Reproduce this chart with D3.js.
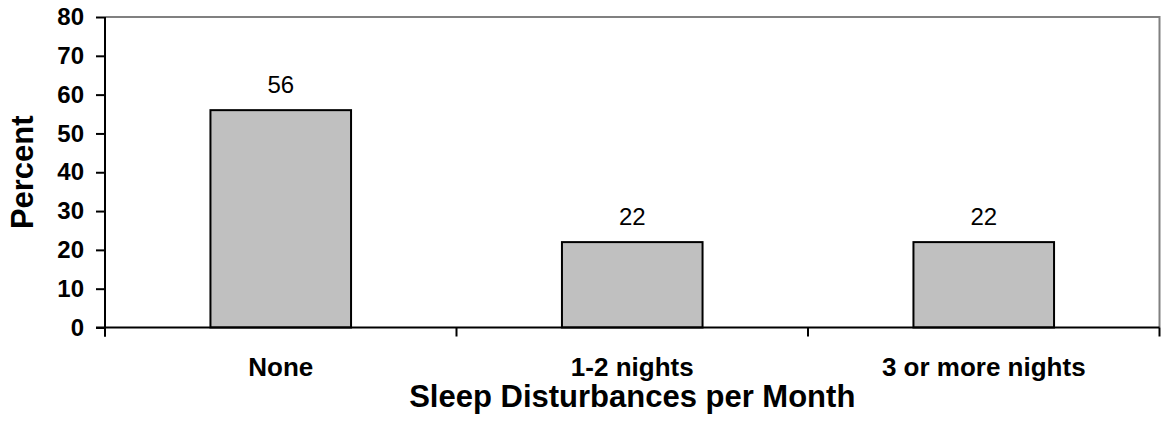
<!DOCTYPE html>
<html>
<head>
<meta charset="utf-8">
<script src="https://cdn.jsdelivr.net/npm/d3@7"></script>
<style>
  body { margin: 0; background: #fff; }
  text { font-family: Arial, "Liberation Sans", sans-serif; }
</style>
</head>
<body>
<div id="chart"></div>
<script>
// chart data
const categories = ["None", "1-2 nights", "3 or more nights"];
const percents = [56, 22, 22];
const yTicks = [0, 10, 20, 30, 40, 50, 60, 70, 80];

const width = 1163;
const height = 423;
const margin = {top: 17, right: 3.5, bottom: 95.5, left: 105};

const svg = d3.select("#chart")
    .append("svg")
    .attr("width", width)
    .attr("height", height);

const x = d3.scaleBand()
    .domain(categories)
    .range([margin.left, width - margin.right])
    .paddingInner(0.6)
    .paddingOuter(0.3);

const y = d3.scaleLinear()
    .domain([0, 80])
    .range([height - margin.bottom, margin.top]);

const y0 = y(0);

// gray frame on top and right
svg.append("path")
    .attr("d", `M${margin.left},${y(80)}H${width - margin.right}V${y0}`)
    .attr("fill", "none")
    .attr("stroke", "#808080")
    .attr("stroke-width", 2);

// bars
svg.selectAll(".bar")
    .data(percents)
    .enter()
    .append("rect")
    .attr("class", "bar")
    .attr("x", (d, i) => x(categories[i]))
    .attr("y", d => y(d))
    .attr("width", x.bandwidth())
    .attr("height", d => y0 - y(d))
    .attr("fill", "#c0c0c0")
    .attr("stroke", "#000")
    .attr("stroke-width", 2);

// value labels
svg.selectAll(".val")
    .data(percents)
    .enter()
    .append("text")
    .attr("class", "val")
    .attr("x", (d, i) => x(categories[i]) + x.bandwidth() / 2)
    .attr("y", d => y(d) - 17)
    .attr("text-anchor", "middle")
    .style("font-size", "24px")
    .text(d => d);

// y axis
const yAxis = svg.append("g")
    .attr("transform", `translate(${margin.left},0)`)
    .call(d3.axisLeft(y).tickValues(yTicks).tickSize(9).tickPadding(12));
yAxis.select(".domain").attr("stroke", "#000").attr("stroke-width", 2)
    .attr("d", `M0,${y(80)}V${y0 + 9}`);
yAxis.selectAll(".tick line").attr("stroke", "#000").attr("stroke-width", 2);
yAxis.selectAll(".tick text")
    .style("font-size", "24px")
    .style("font-weight", "bold")
    .attr("fill", "#000");

// x axis
const step = (width - margin.right - margin.left) / categories.length;
const xAxis = svg.append("g")
    .attr("transform", `translate(0,${y0})`);
xAxis.append("path")
    .attr("d", `M${margin.left - 9},0H${width - margin.right}`)
    .attr("stroke", "#000")
    .attr("stroke-width", 2);
xAxis.selectAll(".xtick")
    .data(d3.range(categories.length + 1))
    .enter()
    .append("line")
    .attr("x1", i => margin.left + i * step)
    .attr("x2", i => margin.left + i * step)
    .attr("y1", 0)
    .attr("y2", 9)
    .attr("stroke", "#000")
    .attr("stroke-width", 2);
xAxis.selectAll(".xlab")
    .data(categories)
    .enter()
    .append("text")
    .attr("x", d => x(d) + x.bandwidth() / 2)
    .attr("y", 48)
    .attr("text-anchor", "middle")
    .style("font-size", "26px")
    .style("font-weight", "bold")
    .text(d => d);

// axis titles
svg.append("text")
    .attr("x", (margin.left + width - margin.right) / 2)
    .attr("y", 407)
    .attr("text-anchor", "middle")
    .style("font-size", "31px")
    .style("font-weight", "bold")
    .text("Sleep Disturbances per Month");

svg.append("text")
    .attr("transform", `translate(33,${(y(80) + y0) / 2}) rotate(-90)`)
    .attr("text-anchor", "middle")
    .style("font-size", "31px")
    .style("font-weight", "bold")
    .text("Percent");
</script>
</body>
</html>
